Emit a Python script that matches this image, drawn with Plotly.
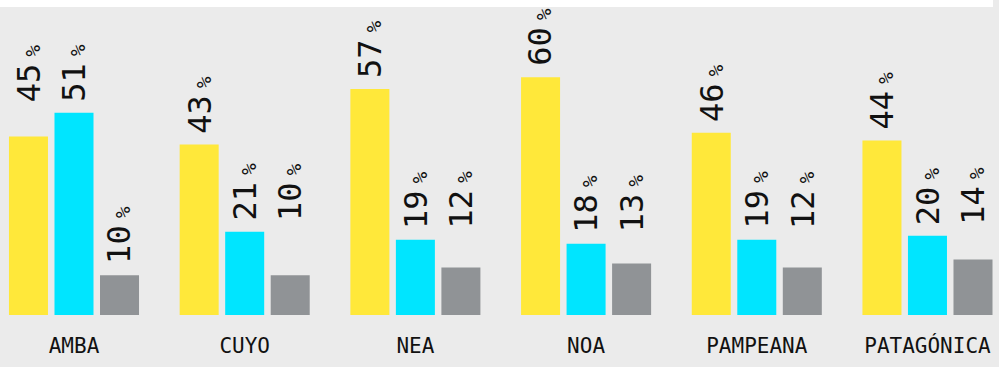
import plotly.graph_objects as go

regions = ["AMBA", "CUYO", "NEA", "NOA", "PAMPEANA", "PATAGÓNICA"]
serie_a = [45, 43, 57, 60, 46, 44]
serie_b = [51, 21, 19, 18, 19, 20]
serie_c = [10, 10, 12, 13, 12, 14]

series = [serie_a, serie_b, serie_c]
colors = ["#FFE83A", "#00E5FF", "#909396"]

BG = "#EBEBEB"
NUM_FONT = "DejaVu Sans Mono"
CAT_FONT = "DejaVu Sans Mono"

bargap = 0.2
slot = (1 - bargap) / len(series)

fig = go.Figure()
for vals, col in zip(series, colors):
    fig.add_trace(go.Bar(x=regions, y=vals, marker_color=col, marker_line_width=0,
                         hoverinfo="skip"))

# labels: bars close in height share the same label baseline
annotations = []
for i, reg in enumerate(regions):
    group = [s[i] for s in series]
    for j, v in enumerate(group):
        base = max(g for g in group if abs(g - v) <= 12)
        annotations.append(dict(
            x=i + (j - 1) * slot, y=base, xref="x", yref="y",
            text=(f"{v}<span style='font-size:12px'> </span>"
                  "<span style='font-size:19px'>%</span>"),
            showarrow=False, textangle=-90, xanchor="center", yanchor="bottom",
            yshift=9, font=dict(family=NUM_FONT, size=32, color="#111111"),
        ))

fig.update_layout(
    width=999, height=367,
    margin=dict(l=0, r=0, t=7, b=52),
    paper_bgcolor=BG, plot_bgcolor=BG,
    barmode="group", bargap=bargap, bargroupgap=0.143,
    showlegend=False,
    annotations=annotations,
    shapes=[dict(type="rect", xref="paper", yref="paper", x0=0, x1=0.994,
                 y0=1, y1=1 + 7 / 308, fillcolor="white", line_width=0, layer="below")],
    xaxis=dict(range=[-0.4335, 5.419], showgrid=False, zeroline=False, showline=False,
               ticks="", ticklabelstandoff=16,
               tickfont=dict(family=CAT_FONT, size=21, color="#111111")),
    yaxis=dict(range=[0, 77.7], visible=False, showgrid=False, zeroline=False),
)

fig.write_html("out.html", config={"displayModeBar": False},
               post_script="document.body.style.margin = '0';")
